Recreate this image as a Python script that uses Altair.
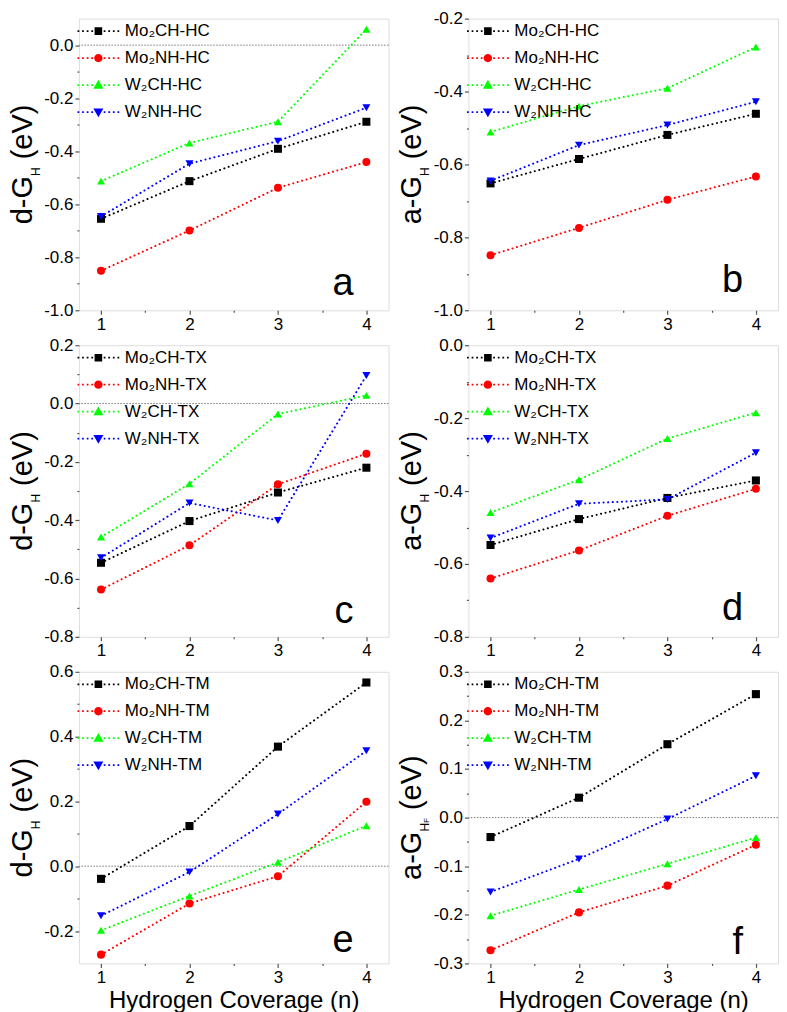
import altair as alt
import pandas as pd

# ---------------- data ----------------
coverage = [1, 2, 3, 4]

a_Mo2CH = [-0.655, -0.513, -0.391, -0.289]
a_Mo2NH = [-0.851, -0.699, -0.538, -0.441]
a_W2CH = [-0.513, -0.369, -0.289, 0.060]
a_W2NH = [-0.646, -0.447, -0.362, -0.236]

b_Mo2CH = [-0.652, -0.585, -0.519, -0.461]
b_Mo2NH = [-0.849, -0.774, -0.697, -0.633]
b_W2CH = [-0.511, -0.440, -0.391, -0.278]
b_W2NH = [-0.645, -0.547, -0.492, -0.428]

c_Mo2CH = [-0.546, -0.403, -0.305, -0.220]
c_Mo2NH = [-0.638, -0.486, -0.277, -0.172]
c_W2CH = [-0.458, -0.275, -0.036, 0.028]
c_W2NH = [-0.529, -0.341, -0.401, 0.096]

d_Mo2CH = [-0.548, -0.477, -0.419, -0.371]
d_Mo2NH = [-0.640, -0.563, -0.468, -0.394]
d_W2CH = [-0.459, -0.369, -0.256, -0.185]
d_W2NH = [-0.529, -0.435, -0.423, -0.295]

e_Mo2CH = [-0.039, 0.124, 0.369, 0.567]
e_Mo2NH = [-0.273, -0.115, -0.031, 0.199]
e_W2CH = [-0.198, -0.092, 0.012, 0.125]
e_W2NH = [-0.153, -0.018, 0.161, 0.356]

f_Mo2CH = [-0.040, 0.041, 0.151, 0.254]
f_Mo2NH = [-0.273, -0.195, -0.140, -0.056]
f_W2CH = [-0.202, -0.148, -0.095, -0.041]
f_W2NH = [-0.153, -0.085, -0.003, 0.086]

materials = ["Mo\u2082CH", "Mo\u2082NH", "W\u2082CH", "W\u2082NH"]
colors = ["#000000", "#ff0000", "#00ff00", "#0000ff"]
shapes = ["square", "circle", "triangle-up", "triangle-down"]
sizes = [64, 66, 100, 100]

x_ticks = [1, 1.5, 2, 2.5, 3, 3.5, 4]
y_ticks_a = [-1.0, -0.9, -0.8, -0.7, -0.6, -0.5, -0.4, -0.3, -0.2, -0.1, 0.0]
y_ticks_b = [-1.0, -0.9, -0.8, -0.7, -0.6, -0.5, -0.4, -0.3, -0.2]
y_ticks_c = [-0.8, -0.7, -0.6, -0.5, -0.4, -0.3, -0.2, -0.1, 0.0, 0.1, 0.2]
y_ticks_d = [-0.8, -0.7, -0.6, -0.5, -0.4, -0.3, -0.2, -0.1, 0.0]
y_ticks_e = [-0.2, -0.1, 0.0, 0.1, 0.2, 0.3, 0.4, 0.5, 0.6]
y_ticks_f = [-0.3, -0.25, -0.2, -0.15, -0.1, -0.05, 0.0, 0.05, 0.1, 0.15, 0.2, 0.25, 0.3]

# ---------------- layout / style ----------------
W, H = 310, 292
FONT = "Liberation Sans"
FRAME = "#555555"
TITLE_FS, SUB_FS, SUBSUB_FS = 29, 12, 8
EM = {"d": 0.556, "a": 0.556, "-": 0.333, "G": 0.778, "H": 0.722, "F": 0.611,
      " ": 0.278, "(": 0.333, "e": 0.556, "V": 0.667, ")": 0.333}


def tw(s, fs):
    return sum(EM[ch] for ch in s) * fs


# legend symbol paths: dotted line + marker
centers = [-5.0, -3.85, -2.7, -1.55, 1.55, 2.7, 3.85, 5.0]
dots = "".join(f"M{c - 0.22:.2f},-0.22h0.44v0.44h-0.44Z" for c in centers)
legend_paths = [
    dots + "M-0.95,-0.95H0.95V0.95H-0.95Z",
    dots + "M1.05,0A1.05,1.05,0,1,1,-1.05,0A1.05,1.05,0,1,1,1.05,0Z",
    dots + "M0,-1.3L1.25,0.9L-1.25,0.9Z",
    dots + "M0,1.3L1.25,-0.9L-1.25,-0.9Z",
]

one = pd.DataFrame({"z": [0.0]})


def make_legend():
    return alt.Legend(
        orient="none", legendX=11, legendY=4, title=None, padding=0,
        symbolSize=64, symbolStrokeWidth=0, symbolOpacity=1,
        labelFont=FONT, labelFontSize=17, labelColor="#000", labelOffset=18,
        rowPadding=9, labelLimit=400)


def panel(letter, suffix, prefix, subsub, series, ydom, yticks, major_test, zero_line,
          letter_dy, xtitle):
    names = [f"{m}-{suffix}" for m in materials]
    rows = []
    for name, vals in zip(names, series):
        for n, v in zip(coverage, vals):
            rows.append({"n": n, "v": v, "series": name})
    df = pd.DataFrame(rows)

    xs = alt.Scale(domain=[0.75, 4.25], nice=False, zero=False)
    ys = alt.Scale(domain=ydom, nice=False, zero=False)
    xaxis = alt.Axis(
        values=x_ticks, domain=False, grid=False,
        labelExpr="datum.value % 1 == 0 ? format(datum.value, 'd') : ''",
        tickSize={"condition": {"test": "datum.value % 1 == 0", "value": 4}, "value": 2},
        tickColor=FRAME, tickWidth=1.2, labelFontSize=17, labelFont=FONT, labelColor="#000",
        labelPadding=2, labelOverlap=False, labelFlush=False,
        title="Hydrogen Coverage (n)" if xtitle else None,
        titleFontSize=24, titleFont=FONT, titleFontWeight="normal", titleColor="#000",
        titlePadding=3,
    )
    yaxis = alt.Axis(
        values=yticks, domain=False, grid=False,
        labelExpr=f"({major_test}) ? replace(format(datum.value, '.1f'), '\u2212', '-') : ''",
        tickSize={"condition": {"test": major_test, "value": 4}, "value": 2},
        tickColor=FRAME, tickWidth=1.2, labelFontSize=17, labelFont=FONT, labelColor="#000",
        labelPadding=2, labelOverlap=False, labelFlush=False, title=None,
    )
    cscale = alt.Scale(domain=names, range=colors)

    layers = []
    if zero_line:
        layers.append(
            alt.Chart(one).mark_rule(color="#777777", strokeWidth=1, strokeDash=[1.5, 1.5])
            .encode(y=alt.Y("z:Q", scale=ys, axis=yaxis))
        )
    line = alt.Chart(df).mark_line(strokeWidth=2, strokeDash=[0.1, 4.5], strokeCap="round").encode(
        x=alt.X("n:Q", scale=xs, axis=xaxis),
        y=alt.Y("v:Q", scale=ys, axis=yaxis),
        color=alt.Color("series:N", scale=cscale, legend=None),
    )
    pts = alt.Chart(df).mark_point(filled=True, opacity=1, strokeWidth=0).encode(
        x=alt.X("n:Q", scale=xs, axis=xaxis),
        y=alt.Y("v:Q", scale=ys, axis=yaxis),
        color=alt.Color("series:N", scale=cscale, legend=None),
        shape=alt.Shape("series:N", scale=alt.Scale(domain=names, range=shapes), legend=None),
        size=alt.Size("series:N", scale=alt.Scale(domain=names, range=sizes), legend=None),
    )
    leg = alt.Chart(df).transform_filter("false").mark_point(
        filled=True, opacity=1, strokeWidth=0
    ).encode(
        color=alt.Color("series:N", scale=cscale, legend=make_legend()),
        shape=alt.Shape("series:N", scale=alt.Scale(domain=names, range=legend_paths),
                        legend=make_legend()),
    )
    layers += [line, pts, leg]

    # y title built from pieces (subscript)
    total = tw(prefix, TITLE_FS) + tw("H", SUB_FS) + (tw("F", SUBSUB_FS) if subsub else 0) \
        + tw(" (eV)", TITLE_FS)
    y0 = H / 2 + total / 2
    bx = -47
    pieces = [(prefix, TITLE_FS, bx, y0)]
    y1 = y0 - tw(prefix, TITLE_FS)
    pieces.append(("H", SUB_FS, bx + 8, y1))
    y2 = y1 - tw("H", SUB_FS)
    if subsub:
        pieces.append(("F", SUBSUB_FS, bx + 8, y2))
        y2 -= tw("F", SUBSUB_FS)
    y2 -= tw(" ", TITLE_FS)
    pieces.append(("(eV)", TITLE_FS, bx, y2))
    for txt, fs, px, py in pieces:
        layers.append(
            alt.Chart(one).mark_text(text=txt, font=FONT, fontSize=fs, angle=270,
                                     align="left", baseline="alphabetic", color="#000")
            .encode(x=alt.value(px), y=alt.value(py))
        )
    layers.append(
        alt.Chart(one).mark_text(text=letter, font=FONT, fontSize=38, align="right",
                                 baseline="alphabetic", color="#000")
        .encode(x=alt.value(W - 35), y=alt.value(H - letter_dy))
    )
    return alt.layer(*layers).resolve_scale(color="independent", shape="independent") \
        .properties(width=W, height=H)


t2 = "abs(round(datum.value*10)) % 2 == 0"
t1 = "abs(round(datum.value*100)) % 10 == 0"

pa = panel("a", "HC", "d-G", False, [a_Mo2CH, a_Mo2NH, a_W2CH, a_W2NH], [-1.0, 0.1], y_ticks_a, t2, True, 15, False)
pb = panel("b", "HC", "a-G", False, [b_Mo2CH, b_Mo2NH, b_W2CH, b_W2NH], [-1.0, -0.2], y_ticks_b, t2, False, 18, False)
pc = panel("c", "TX", "d-G", False, [c_Mo2CH, c_Mo2NH, c_W2CH, c_W2NH], [-0.8, 0.2], y_ticks_c, t2, True, 14, False)
pd_ = panel("d", "TX", "a-G", False, [d_Mo2CH, d_Mo2NH, d_W2CH, d_W2NH], [-0.8, 0.0], y_ticks_d, t2, False, 17, False)
pe = panel("e", "TM", "d-G", False, [e_Mo2CH, e_Mo2NH, e_W2CH, e_W2NH], [-0.3, 0.6], y_ticks_e, t2, True, 11, True)
pf = panel("f", "TM", "a-G", True, [f_Mo2CH, f_Mo2NH, f_W2CH, f_W2NH], [-0.3, 0.3], y_ticks_f, t1, True, 9, True)

chart = alt.concat(
    pa, pb, pc, pd_, pe, pf, columns=2,
    spacing={"row": 35, "column": 80}, bounds="flush",
).properties(padding={"left": 0, "top": 0, "right": 0, "bottom": 0}).configure_view(
    stroke=FRAME, strokeWidth=1.3
).configure(font=FONT)

chart.save("out.html", embed_options={"renderer": "svg", "actions": False})
